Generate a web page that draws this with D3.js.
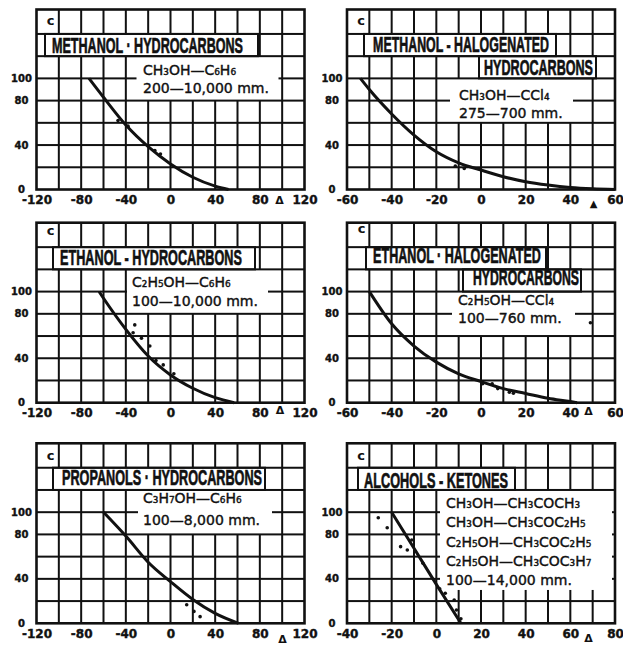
<!DOCTYPE html>
<html>
<head>
<meta charset="utf-8">
<script src="https://cdn.jsdelivr.net/npm/d3@7"></script>
<style>
  body { margin: 0; background: #fff; }
  svg { display: block; }
</style>
</head>
<body>
<script>

// ---- data ----
var panelTitles = [
  ["METHANOL · HYDROCARBONS"],
  ["METHANOL - HALOGENATED", "HYDROCARBONS"],
  ["ETHANOL - HYDROCARBONS"],
  ["ETHANOL · HALOGENATED", "HYDROCARBONS"],
  ["PROPANOLS · HYDROCARBONS"],
  ["ALCOHOLS - KETONES"]
];

var panelSystems = [
  ["CH₃OH—C₆H₆", "200—10,000 mm."],
  ["CH₃OH—CCl₄", "275—700 mm."],
  ["C₂H₅OH—C₆H₆", "100—10,000 mm."],
  ["C₂H₅OH—CCl₄", "100—760 mm."],
  ["C₃H₇OH—C₆H₆", "100—8,000 mm."],
  ["CH₃OH—CH₃COCH₃", "CH₃OH—CH₃COC₂H₅", "C₂H₅OH—CH₃COC₂H₅", "C₂H₅OH—CH₃COC₃H₇", "100—14,000 mm."]
];

var xDomains = [[-120, 120], [-60, 60], [-120, 120], [-60, 60], [-120, 120], [-40, 80]];
var xTicks = [
  [-120, -80, -40, 0, 40, 80, 120],
  [-60, -40, -20, 0, 20, 40, 60],
  [-120, -80, -40, 0, 40, 80, 120],
  [-60, -40, -20, 0, 20, 40, 60],
  [-120, -80, -40, 0, 40, 80, 120],
  [-40, -20, 0, 20, 40, 60, 80]
];
var xRuleStep = [20, 10, 20, 10, 20, 10];
var yTicks = [0, 40, 80, 100];
var yRules = [20, 40, 60, 80, 100, 120, 140];
var yMax = 162;

// smoothed curves (delta, C)
var methanolHcCurve = [[-73,100],[-60,83],[-40,58],[-20,38.5],[0,23],[20,11],[40,3],[52,0]];
var methanolHalCurve = [[-54,100],[-50,90],[-40,68],[-30,49],[-20,34],[-10,24],[0,17.5],[10,11.5],[20,7],[30,4],[40,1.8],[50,0.6],[60,0]];
var ethanolHcCurve = [[-64,100],[-60,94],[-40,66],[-20,42],[0,25],[20,13],[40,4.5],[57,0]];
var ethanolHalCurve = [[-50,100],[-40,71],[-30,51],[-20,36.5],[-10,26],[0,19],[10,12.7],[20,8.3],[30,4],[40,1],[43,0]];
var propanolsHcCurve = [[-60,100],[-40,78.5],[-20,55],[0,37.5],[20,21.5],[40,9],[61,0]];
var alcoholsKetonesCurve = [[-20,100],[-10,67.5],[0,35],[11,0]];

// measured points
var methanolHcPoints = [[-47,62],[-38,57],[-14,35],[-9,32]];
var methanolHalPoints = [[-11.5,21],[-7.5,19]];
var ethanolHcPoints = [[-32,70],[-33.5,63],[-26,58],[-18.5,51],[-13,38],[-6.5,34],[3,26]];
var ethanolHalPoints = [[0.7,17],[5,17],[7.5,12.7],[12.7,9.5],[14.5,8.5],[49,72]];
var propanolsHcPoints = [[14.5,16.7],[21,10.7],[26.5,6]];
var alcoholsKetonesPoints = [[-26,95],[-22,86],[-16,69],[-13,66],[-11,75],[-6,54],[1.5,31],[4,27],[8,21],[9,12],[11,4]];

var curves = [methanolHcCurve, methanolHalCurve, ethanolHcCurve, ethanolHalCurve, propanolsHcCurve, alcoholsKetonesCurve];
var points = [methanolHcPoints, methanolHalPoints, ethanolHcPoints, ethanolHalPoints, propanolsHcPoints, alcoholsKetonesPoints];

// ---- layout (pixels, relative to each panel frame) ----
var W = 268, H = 180;
var origins = [[36.5, 9.5], [347, 9.5], [36.5, 222.7], [347, 222.7], [36.5, 443.3], [347, 443.3]];
var cPos = [[14, 15.5], [14, 15.5], [14, 12.5], [14.5, 10.5], [14, 16.5], [14, 16.5]];
// title boxes: x1, x2, text centre, text width, baseline, top row, bottom row
var titleLayout = [
  [[8.5, 221.5, 111, 191, 43.5, 140, 120]],
  [[17, 209, 114, 176, 42, 140, 120], [132, 249, 191.5, 109, 65.5, 120, 100]],
  [[16.5, 218.5, 114.5, 182, 42.3, 140, 120]],
  [[19, 199, 110, 168, 40.6, 140, 120], [116, 234, 179, 106, 62.3, 120, 100]],
  [[16.5, 228.5, 125.5, 200, 41.7, 140, 120]],
  [[11, 168, 89, 144, 45, 140, 120]]
];
// system boxes: x1, x2, top row, bottom row, text x, first baseline, line step
var subLayout = [
  [100, 242, 120, 80, 106.5, 65.5, 18],
  [103, 226, 100, 60, 112, 90.5, 18],
  [90.5, 231.5, 120, 80, 95.5, 64.3, 19],
  [105, 228, 100, 60, 111, 82.3, 18.5],
  [101.5, 235.5, 120, 80, 106.5, 59.7, 22],
  [93, 265, 120, 30, 99, 64.7, 19.3]
];
var deltaPos = [[243, 14.5, "Δ"], [246.5, 17.5, "▲"], [243.5, 11.3, "Δ"], [241.5, 12.3, "Δ"], [246, 19.7, "Δ"], [241.5, 18.7, "Δ"]];

var svg = d3.select("body").append("svg")
    .attr("width", 623)
    .attr("height", 645);

var curveLine = d3.line().curve(d3.curveMonotoneX);

// pieces of [lo,hi] not covered by any block
function freeSegments(lo, hi, blocks) {
  blocks.sort(function (a, b) { return a[0] - b[0]; });
  var segs = [], cur = lo;
  blocks.forEach(function (b) {
    if (b[0] > cur) segs.push([cur, Math.min(b[0], hi)]);
    cur = Math.max(cur, b[1]);
  });
  if (cur < hi) segs.push([cur, hi]);
  return segs;
}

function drawPanel(i) {
  var g = svg.append("g")
      .attr("transform", "translate(" + origins[i][0] + "," + origins[i][1] + ")");

  var x = d3.scaleLinear().domain(xDomains[i]).range([0, W]);
  var y = d3.scaleLinear().domain([0, yMax]).range([H, 0]);

  // boxes the ruling must not cross: [x1, x2, y1, y2]
  var boxes = titleLayout[i].map(function (b) { return [b[0], b[1], y(b[5]), y(b[6])]; });
  var s = subLayout[i];
  boxes.push([s[0], s[1], y(s[2]), y(s[3])]);

  // ruled paper, one thin filled bar per free segment
  var bars = [];
  var gx = d3.range(xDomains[i][0] + xRuleStep[i], xDomains[i][1], xRuleStep[i]);
  gx.forEach(function (d) {
    var px = x(d);
    var blocks = boxes.filter(function (b) { return b[0] < px && px < b[1]; })
        .map(function (b) { return [b[2], b[3]]; });
    freeSegments(0, H, blocks).forEach(function (sg) {
      bars.push([px - 1, sg[0], 2, sg[1] - sg[0]]);
    });
  });
  yRules.forEach(function (d) {
    var py = y(d);
    var blocks = boxes.filter(function (b) { return b[2] + 0.5 < py && py < b[3] - 0.5; })
        .map(function (b) { return [b[0], b[1]]; });
    freeSegments(0, W, blocks).forEach(function (sg) {
      bars.push([sg[0], py - 1, sg[1] - sg[0], 2]);
    });
  });
  g.selectAll(".bar")
      .data(bars)
      .enter().append("rect")
      .attr("class", "bar")
      .attr("x", function (d) { return d[0]; })
      .attr("y", function (d) { return d[1]; })
      .attr("width", function (d) { return d[2]; })
      .attr("height", function (d) { return d[3]; })
      .attr("fill", "#111");

  // title box outlines
  titleLayout[i].forEach(function (b) {
    g.append("rect")
        .attr("x", b[0]).attr("width", b[1] - b[0])
        .attr("y", y(b[5])).attr("height", y(b[6]) - y(b[5]))
        .attr("fill", "none")
        .attr("stroke", "#111")
        .attr("stroke-width", 2);
  });

  // frame
  g.append("rect")
      .attr("width", W).attr("height", H)
      .attr("fill", "none")
      .attr("stroke", "#111")
      .attr("stroke-width", 2.6);

  // curve and points
  curveLine.x(function (d) { return x(d[0]); }).y(function (d) { return y(d[1]); });
  g.append("path")
      .datum(curves[i])
      .attr("d", curveLine)
      .attr("fill", "none")
      .attr("stroke", "#111")
      .attr("stroke-width", 3);
  g.selectAll(".pt")
      .data(points[i])
      .enter().append("circle")
      .attr("class", "pt")
      .attr("cx", function (d) { return x(d[0]); })
      .attr("cy", function (d) { return y(d[1]); })
      .attr("r", 1.8)
      .attr("fill", "#111");

  // titles, squeezed horizontally to the box width
  titleLayout[i].forEach(function (b, k) {
    var t = g.append("text")
        .attr("text-anchor", "middle")
        .attr("font-family", "Liberation Sans")
        .attr("font-weight", "bold")
        .attr("font-size", 22)
        .attr("fill", "#111")
        .attr("stroke", "#111")
        .attr("stroke-width", 0.7)
        .text(panelTitles[i][k]);
    var len = t.node().getComputedTextLength() || b[3];
    t.attr("transform", "translate(" + b[2] + "," + b[4] + ") scale(" + (b[3] / len) + ",1)");
  });

  // systems and pressure range
  panelSystems[i].forEach(function (t, k) {
    g.append("text")
        .attr("x", s[4])
        .attr("y", s[5] + k * s[6])
        .attr("font-family", "DejaVu Sans")
        .attr("font-size", 14)
        .attr("fill", "#111")
        .attr("stroke", "#111")
        .attr("stroke-width", 0.4)
        .text(t);
  });

  // "c" label
  g.append("text")
      .attr("x", cPos[i][0]).attr("y", cPos[i][1])
      .attr("text-anchor", "middle")
      .attr("font-family", "DejaVu Sans")
      .attr("font-weight", "bold")
      .attr("font-size", 13)
      .attr("fill", "#111")
      .text("c");

  // axes labels
  var ax = g.append("g")
      .attr("transform", "translate(0," + H + ")")
      .call(d3.axisBottom(x).tickValues(xTicks[i]).tickSize(0).tickFormat(function (d) { return String(d); }));
  ax.select(".domain").remove();
  ax.selectAll("text")
      .attr("y", 14.5).attr("dy", 0)
      .attr("font-family", "DejaVu Sans")
      .attr("font-weight", "bold")
      .attr("font-size", 12)
      .attr("fill", "#111")
      .attr("stroke", "#111")
      .attr("stroke-width", 0.4);

  var ay = g.append("g")
      .call(d3.axisLeft(y).tickValues(yTicks).tickSize(0));
  ay.select(".domain").remove();
  ay.selectAll("text")
      .attr("x", -15).attr("dy", "0.3em")
      .attr("text-anchor", "middle")
      .attr("font-family", "DejaVu Sans")
      .attr("font-weight", "bold")
      .attr("font-size", 10)
      .attr("fill", "#111")
      .attr("stroke", "#111")
      .attr("stroke-width", 0.4);

  g.append("text")
      .attr("x", deltaPos[i][0]).attr("y", H + deltaPos[i][1])
      .attr("text-anchor", "middle")
      .attr("font-family", "DejaVu Sans")
      .attr("font-weight", "bold")
      .attr("font-size", deltaPos[i][2] == "▲" ? 10 : 11)
      .attr("fill", "#111")
      .text(deltaPos[i][2]);
}

for (var i = 0; i < 6; i++) {
  drawPanel(i);
}

</script>
</body>
</html>
